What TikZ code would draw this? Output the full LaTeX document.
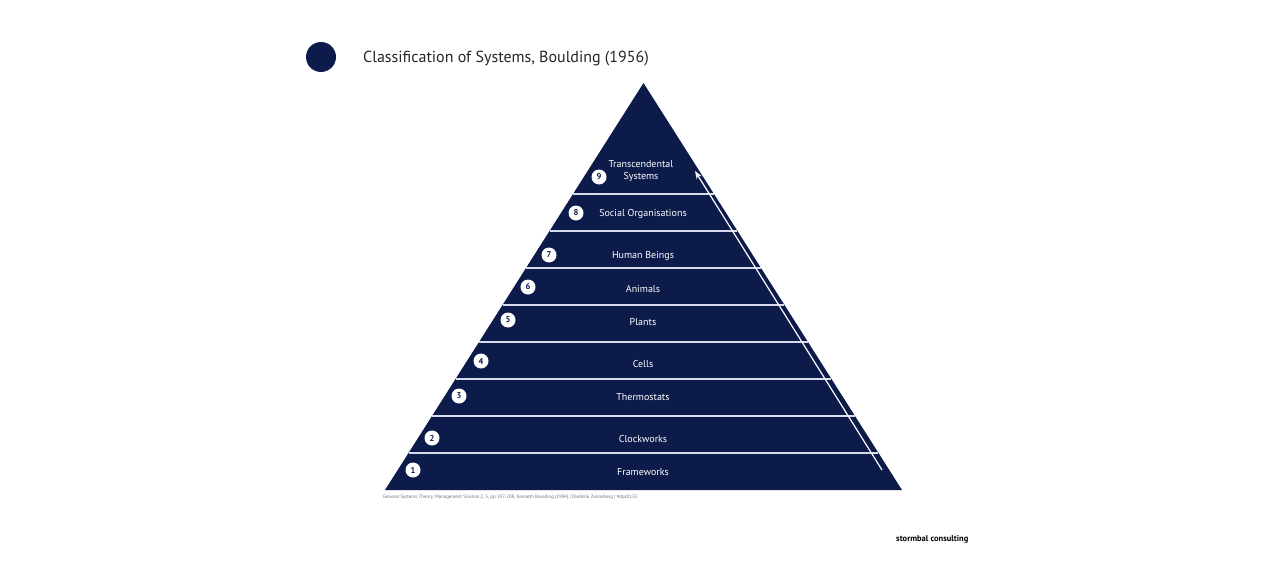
\documentclass[tikz,border=0pt]{standalone}
\usepackage{fontspec}
\setmainfont{PT Sans}
\usepackage{xcolor}
\usetikzlibrary{arrows.meta}
\definecolor{navy}{RGB}{12,27,74}
\definecolor{bandrule}{RGB}{214,218,236}

\begin{document}
\begin{tikzpicture}[x=1pt,y=-1pt,
  band/.style={text=white,font=\fontsize{10}{12.5}\selectfont,align=center,inner sep=0pt},
  num/.style={circle,fill=white,text=navy,minimum size=15pt,inner sep=0pt,font=\bfseries\fontsize{8.5}{8.5}\selectfont}]
\useasboundingbox[fill=white] (0,0) rectangle (1272,570);
\node[circle,fill=navy,minimum size=30pt,inner sep=0pt] (dot) at (321,57) {};
\node[anchor=west,text=black!85,font=\fontsize{16}{18}\selectfont,inner sep=0pt] (title) at (363,58.5) {Classification of Systems, Boulding (1956)};
\fill[navy] (385,490)--(643.5,83)--(902,490)--cycle;
\foreach \y in {194,231,...,453}
  \draw[bandrule,line width=1.8pt] ({643.5-0.635*(\y-83)},\y)--({643.5+0.635*(\y-83)},\y);
\node[band] (l9) at (641,171) {Transcendental\\Systems};
\node[band] (l8) at (643,214) {Social Organisations};
\node[band] (l7) at (643,256) {Human Beings};
\node[band] (l6) at (643,289) {Animals};
\node[band] (l5) at (643,322) {Plants};
\node[band] (l4) at (643,364) {Cells};
\node[band] (l3) at (643,397) {Thermostats};
\node[band] (l2) at (643,439) {Clockworks};
\node[band] (l1) at (643,472) {Frameworks};
\node[num] (n9) at (599,177) {9};
\node[num] (n8) at (576,213) {8};
\node[num] (n7) at (549,255) {7};
\node[num] (n6) at (528,287) {6};
\node[num] (n5) at (508,320) {5};
\node[num] (n4) at (481,361) {4};
\node[num] (n3) at (459,396) {3};
\node[num] (n2) at (432,438) {2};
\node[num] (n1) at (413,470) {1};
\coordinate (up0) at (882,470);
\coordinate (up1) at (695,171);
\draw[white,line width=1.2pt,-{Stealth[length=8pt,width=6pt]}] (up0)--(up1);
\node[anchor=west,text=black!55,font=\fontsize{4.85}{6}\selectfont,inner sep=0pt] (src) at (383,497) {General Systems Theory, Management Science 2, 3, pp 197-208, Kenneth Boulding (1984) | Diederik Zunneberg | \#dpz0135};
\node[anchor=west,text=black,font=\bfseries\fontsize{8.5}{10}\selectfont,inner sep=0pt] (firm) at (896,539) {stormbal consulting};
\end{tikzpicture}
\end{document}
